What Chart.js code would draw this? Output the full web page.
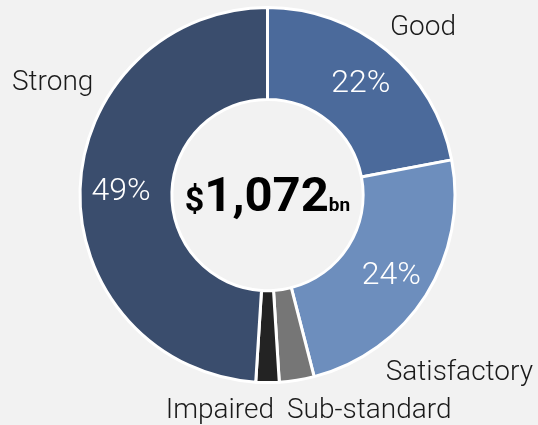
<!DOCTYPE html>
<html lang="en">
<head>
    <meta charset="UTF-8">
    <title>Credit quality</title>
    <script src="https://cdn.jsdelivr.net/npm/chart.js"></script>
    <style>
        html, body { margin:0; padding:0; background:#f2f2f2; }
        #wrap { width:538px; height:425px; }
    </style>
</head>
<body>
    <div id="wrap">
        <canvas id="myChart" width="538" height="425"></canvas>
    </div>

    <script>
        // grades, clockwise from the top
        const grades = ['Good', 'Satisfactory', 'Sub-standard', 'Impaired', 'Strong'];
        const shares = [22, 24, 3, 2, 49];
        const colours = ['#4b6a9b', '#6d8ebd', '#767676', '#232323', '#3a4d6d'];
        // which slices carry a percentage inside the ring
        const showPct = [true, true, false, false, true];
        const total = '1,072';

        // outside labels: [text, x, baseline y, align]
        const outerLabels = [
            ['Good', 456, 35, 'right'],
            ['Satisfactory', 533, 380, 'right'],
            ['Impaired', 274, 418, 'right'],
            ['Sub-standard', 287, 418, 'left'],
            ['Strong', 12, 90, 'left']
        ];

        const FONT = '"Roboto", "Liberation Sans", sans-serif';

        const labelPlugin = {
            id: 'labelPlugin',
            afterDatasetsDraw(chart) {
                const ctx = chart.ctx;
                const meta = chart.getDatasetMeta(0);
                ctx.save();

                // percentages
                ctx.fillStyle = '#ffffff';
                ctx.font = '300 32px ' + FONT;
                ctx.textAlign = 'center';
                ctx.textBaseline = 'middle';
                meta.data.forEach((arc, i) => {
                    if (!showPct[i]) return;
                    const p = arc.getProps(['x', 'y', 'startAngle', 'endAngle', 'innerRadius', 'outerRadius'], true);
                    const mid = (p.startAngle + p.endAngle) / 2;
                    const r = (p.innerRadius + p.outerRadius) / 2 + 5;
                    ctx.fillText(shares[i] + '%', p.x + Math.cos(mid) * r, p.y + Math.sin(mid) * r + 2);
                });

                // grade names
                ctx.fillStyle = '#1a1a1a';
                ctx.font = '300 28px ' + FONT;
                ctx.textBaseline = 'alphabetic';
                outerLabels.forEach(l => {
                    ctx.textAlign = l[3];
                    ctx.fillText(l[0], l[1], l[2]);
                });

                // total in the hole
                const c = meta.data[0];
                const parts = [
                    ['$', 'bold 34px ' + FONT],
                    [total, 'bold 49px ' + FONT],
                    ['bn', 'bold 19px ' + FONT]
                ];
                let w = 0;
                parts.forEach(pt => { ctx.font = pt[1]; w += ctx.measureText(pt[0]).width; });
                let x = c.x - w / 2;
                const base = c.y + 16;
                ctx.fillStyle = '#000000';
                ctx.textAlign = 'left';
                parts.forEach(pt => {
                    ctx.font = pt[1];
                    ctx.fillText(pt[0], x, base);
                    x += ctx.measureText(pt[0]).width;
                });
                ctx.restore();
            }
        };

        const ctx = document.querySelector('#myChart').getContext('2d');
        const myChart = new Chart(ctx, {
            type: 'doughnut',
            data: {
                labels: grades,
                datasets: [{
                    data: shares,
                    backgroundColor: colours,
                    borderColor: '#ffffff',
                    borderWidth: 3
                }]
            },
            options: {
                responsive: false,
                animation: false,
                cutout: '51%',
                layout: { padding: { top: 6, bottom: 41, left: 0, right: 3 } },
                plugins: {
                    legend: { display: false },
                    tooltip: { enabled: false }
                }
            },
            plugins: [labelPlugin]
        });
    </script>
</body>
</html>
